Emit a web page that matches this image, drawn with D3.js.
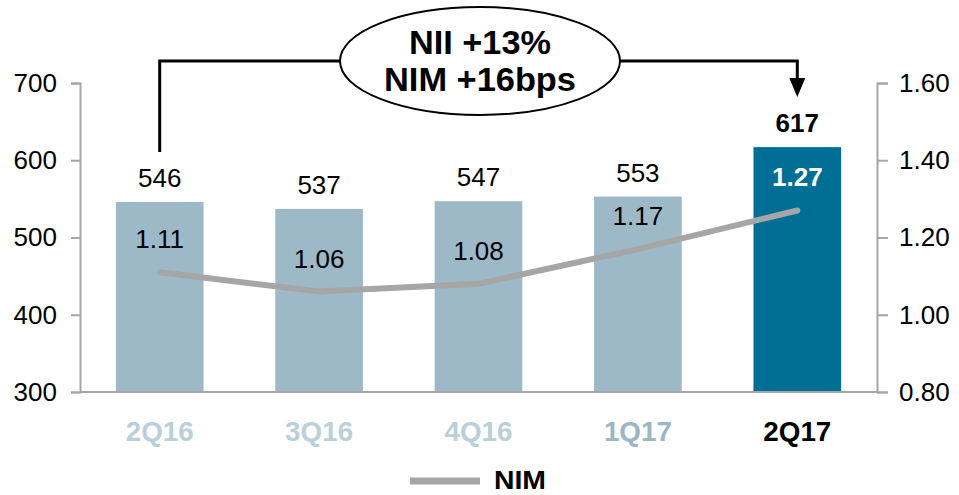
<!DOCTYPE html>
<html>
<head>
<meta charset="utf-8">
<script src="https://cdn.jsdelivr.net/npm/d3@7"></script>
<style>
  html, body { margin: 0; padding: 0; background: #fff; }
  svg { display: block; font-family: "Liberation Sans", Arial, sans-serif; }
</style>
</head>
<body>
<svg id="chart" width="959" height="495"></svg>
<script>
const categories = ["2Q16", "3Q16", "4Q16", "1Q17", "2Q17"];
const nii = [546, 537, 547, 553, 617];
const nim = [1.11, 1.06, 1.08, 1.17, 1.27];
const leftTicks = [300, 400, 500, 600, 700];
const rightTicks = [0.80, 1.00, 1.20, 1.40, 1.60];
const calloutLines = ["NII +13%", "NIM +16bps"];
const legendLabel = "NIM";

const svg = d3.select("#chart");
const plotLeft = 80, plotRight = 877, plotTop = 83, plotBottom = 392;

const x = d3.scaleBand().domain(categories).range([plotLeft, plotRight]).paddingInner(0.45).paddingOuter(0.225);
const yL = d3.scaleLinear().domain([300, 700]).range([plotBottom, plotTop]);
const yR = d3.scaleLinear().domain([0.8, 1.6]).range([plotBottom, plotTop]);

const axisGray = "#a6a6a6";
const lightBar = "#9db9c7";
const darkBar = "#006f96";
const lineGray = "#a6a6a6";
const catColors = ["#b9d0db", "#b9d0db", "#b9d0db", "#9bb6c4", "#000000"];
const last = categories.length - 1;

// Left axis
const gL = svg.append("g").attr("transform", `translate(${plotLeft},0)`)
  .call(d3.axisLeft(yL).tickValues(leftTicks).tickSize(9).tickPadding(14).tickFormat(d3.format("d")));
gL.select(".domain").attr("stroke", axisGray).attr("stroke-width", 2);
gL.selectAll(".tick line").attr("stroke", axisGray).attr("stroke-width", 2);
gL.selectAll(".tick text").attr("font-size", 26).attr("fill", "#000").attr("font-family", "Liberation Sans, Arial, sans-serif");

// Right axis
const gR = svg.append("g").attr("transform", `translate(${plotRight},0)`)
  .call(d3.axisRight(yR).tickValues(rightTicks).tickSize(11).tickPadding(11).tickFormat(d3.format(".2f")));
gR.select(".domain").attr("stroke", axisGray).attr("stroke-width", 2);
gR.selectAll(".tick line").attr("stroke", axisGray).attr("stroke-width", 2);
gR.selectAll(".tick text").attr("font-size", 26).attr("fill", "#000").attr("font-family", "Liberation Sans, Arial, sans-serif");

// Bars
svg.append("g").selectAll("rect").data(categories).join("rect")
  .attr("x", d => x(d))
  .attr("width", x.bandwidth())
  .attr("y", (d, i) => yL(nii[i]))
  .attr("height", (d, i) => plotBottom - yL(nii[i]))
  .attr("fill", (d, i) => i === last ? darkBar : lightBar);

// Baseline
svg.append("line").attr("x1", plotLeft).attr("x2", plotRight).attr("y1", plotBottom).attr("y2", plotBottom)
  .attr("stroke", axisGray).attr("stroke-width", 2);

// NII labels
svg.append("g").selectAll("text").data(categories).join("text")
  .attr("x", d => x(d) + x.bandwidth() / 2)
  .attr("y", (d, i) => yL(nii[i]) - 15)
  .attr("text-anchor", "middle")
  .attr("font-size", 26)
  .attr("font-weight", (d, i) => i === last ? "bold" : "normal")
  .attr("fill", "#000")
  .text((d, i) => nii[i]);

// NIM line
const line = d3.line().x((d, i) => x(categories[i]) + x.bandwidth() / 2).y(d => yR(d));
svg.append("path").datum(nim).attr("d", line)
  .attr("fill", "none").attr("stroke", lineGray).attr("stroke-width", 6).attr("stroke-linecap", "round");

// NIM labels
svg.append("g").selectAll("text").data(nim).join("text")
  .attr("x", (d, i) => x(categories[i]) + x.bandwidth() / 2)
  .attr("y", d => yR(d) - 24)
  .attr("text-anchor", "middle")
  .attr("font-size", 26)
  .attr("font-weight", (d, i) => i === last ? "bold" : "normal")
  .attr("fill", (d, i) => i === last ? "#fff" : "#000")
  .text(d => d.toFixed(2));

// Category labels
svg.append("g").selectAll("text").data(categories).join("text")
  .attr("x", d => x(d) + x.bandwidth() / 2)
  .attr("y", 441)
  .attr("text-anchor", "middle")
  .attr("font-size", 28)
  .attr("font-weight", "bold")
  .attr("fill", (d, i) => catColors[i])
  .attr("textLength", 68).attr("lengthAdjust", "spacingAndGlyphs")
  .text(d => d);

// Callout bracket
const x0 = x(categories[0]) + x.bandwidth() / 2;
const x4 = x(categories[last]) + x.bandwidth() / 2;
const cy = 61, ecx = 480, erx = 140, ery = 54;
svg.append("path")
  .attr("d", `M${x0},152 L${x0},${cy} L${ecx - erx},${cy}`)
  .attr("fill", "none").attr("stroke", "#000").attr("stroke-width", 3);
svg.append("path")
  .attr("d", `M${ecx + erx},${cy} L${x4},${cy} L${x4},79`)
  .attr("fill", "none").attr("stroke", "#000").attr("stroke-width", 3);
svg.append("path")
  .attr("d", `M${x4 - 8},78 L${x4 + 8},78 L${x4},97 Z`)
  .attr("fill", "#000");
svg.append("ellipse").attr("cx", ecx).attr("cy", cy).attr("rx", erx).attr("ry", ery)
  .attr("fill", "#fff").attr("stroke", "#000").attr("stroke-width", 2);
svg.append("text").attr("x", ecx).attr("y", 54).attr("text-anchor", "middle")
  .attr("font-size", 33).attr("font-weight", "bold").attr("textLength", 142).attr("lengthAdjust", "spacingAndGlyphs")
  .text(calloutLines[0]);
svg.append("text").attr("x", ecx).attr("y", 91).attr("text-anchor", "middle")
  .attr("font-size", 33).attr("font-weight", "bold").attr("textLength", 192).attr("lengthAdjust", "spacingAndGlyphs")
  .text(calloutLines[1]);

// Legend
svg.append("line").attr("x1", 410).attr("x2", 480).attr("y1", 481).attr("y2", 481)
  .attr("stroke", lineGray).attr("stroke-width", 7);
svg.append("text").attr("x", 494).attr("y", 489).attr("font-size", 25).attr("font-weight", "bold")
  .attr("textLength", 52).attr("lengthAdjust", "spacingAndGlyphs")
  .attr("fill", "#000").text(legendLabel);
</script>
</body>
</html>
